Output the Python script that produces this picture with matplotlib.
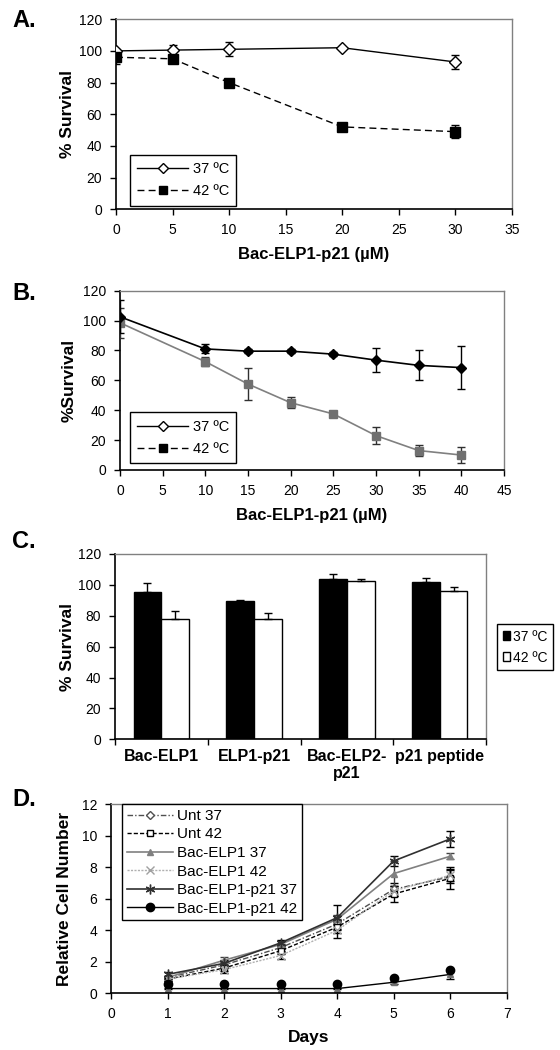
import matplotlib
matplotlib.use('Agg')
import matplotlib.pyplot as plt
import numpy as np
from matplotlib.lines import Line2D
from matplotlib.patches import Patch

plt.rcParams['font.family'] = ['Liberation Sans', 'DejaVu Sans']
plt.rcParams['font.size'] = 10

# panel A
conc_a = [0, 5, 10, 20, 30]
surv_a_37 = [100, 100.5, 101, 102, 93]
err_a_37 = [1, 3.5, 4.5, 0.5, 4.5]
surv_a_42 = [96, 95, 80, 52, 49]
err_a_42 = [4.5, 2, 1, 0.5, 4]

# panel B
conc_b = [0, 10, 15, 20, 25, 30, 35, 40]
surv_b_37 = [102.5, 81, 79.5, 79.5, 77.5, 73.5, 70, 68.5]
err_b_37 = [11, 3, 1.5, 1.5, 1.5, 8, 10, 14.5]
surv_b_42 = [98.5, 72.5, 57.5, 45, 37.5, 23, 13, 10]
err_b_42 = [10, 3, 10.5, 3.5, 1, 5.5, 3.5, 5.5]

# panel C
groups = ['Bac-ELP1', 'ELP1-p21', 'Bac-ELP2-\np21', 'p21 peptide']
c_37 = [95.5, 89.5, 104, 102]
c_37_err = [6, 0.5, 3, 2.5]
c_42 = [78, 78, 102.5, 96]
c_42_err = [5, 4, 1, 2.5]

# panel D
days = [1, 2, 3, 4, 5, 6]
unt37 = [1.0, 1.8, 2.9, 4.4, 6.6, 7.4]
unt37_err = [0.1, 0.2, 0.2, 0.3, 0.4, 0.4]
unt42 = [0.9, 1.6, 2.7, 4.2, 6.3, 7.3]
unt42_err = [0.1, 0.2, 0.2, 0.4, 0.5, 0.7]
elp37 = [1.0, 2.1, 3.1, 4.7, 7.6, 8.7]
elp37_err = [0.1, 0.2, 0.2, 0.3, 0.8, 0.2]
elp42 = [0.9, 1.5, 2.4, 4.0, 6.5, 7.5]
elp42_err = [0.1, 0.2, 0.2, 0.5, 0.3, 0.4]
p21_37 = [1.2, 1.9, 3.2, 4.8, 8.4, 9.8]
p21_37_err = [0.15, 0.2, 0.2, 0.8, 0.3, 0.5]
p21_42 = [0.6, 0.6, 0.6, 0.6, 1.0, 1.5]
p21_42_trace = [0.3, 0.3, 0.3, 0.3, 0.7, 1.2]
p21_42_trace_err = [0.05, 0.05, 0.05, 0.05, 0.1, 0.3]

fig = plt.figure(figsize=(5.6, 10.5), dpi=100)


def style_axes(ax):
    for s in ['top', 'right']:
        ax.spines[s].set_color('#808080')
        ax.spines[s].set_linewidth(1)
    for s in ['left', 'bottom']:
        ax.spines[s].set_color('black')
        ax.spines[s].set_linewidth(1.2)
    ax.tick_params(direction='out', length=4, width=1, labelsize=10, pad=6)
    ax.tick_params(top=False, right=False)


def temp_legend(ax, anchor):
    h = [Line2D([], [], color='black', lw=1, marker='D', ms=5.5, mfc='white', mec='black'),
         Line2D([], [], color='black', lw=1, ls=(0, (5, 3)), marker='s', ms=6, mfc='black', mec='black')]
    leg = ax.legend(h, ['37 \u00baC', '42 \u00baC'], loc='lower left', bbox_to_anchor=anchor,
                    borderaxespad=0, fancybox=False, edgecolor='black', framealpha=1,
                    handlelength=3.5, handletextpad=0.3, fontsize=10.5, labelspacing=0.55,
                    borderpad=0.5)
    leg.get_frame().set_linewidth(1)


# ---- A ----
axa = fig.add_axes([0.2071, 0.8007, 0.7071, 0.181])
style_axes(axa)
axa.errorbar(conc_a, surv_a_37, yerr=err_a_37, color='black', lw=1, marker='D', ms=6,
             mfc='white', mec='black', capsize=3, elinewidth=1, zorder=3)
axa.errorbar(conc_a, surv_a_42, yerr=err_a_42, color='black', lw=1, ls=(0, (5, 3)), marker='s',
             ms=7, mfc='black', mec='black', capsize=3, elinewidth=1, zorder=3)
axa.set_xlim(0, 35)
axa.set_ylim(0, 120)
axa.set_xticks(range(0, 36, 5))
axa.set_yticks(range(0, 121, 20))
axa.set_xlabel('Bac-ELP1-p21 (\u00b5M)', fontsize=12, fontweight='bold', labelpad=7)
axa.set_ylabel('% Survival', fontsize=12.5, fontweight='bold')
axa.yaxis.set_label_coords(-0.103, 0.5)
temp_legend(axa, (0.035, 0.019))

# ---- B ----
axb = fig.add_axes([0.2143, 0.5524, 0.6857, 0.1708])
style_axes(axb)
axb.errorbar(conc_b, surv_b_42, yerr=err_b_42, color='#808080', lw=1.2, marker='s', ms=6,
             mfc='#707070', mec='#707070', ecolor='#303030', capsize=3, elinewidth=1, zorder=3)
axb.errorbar(conc_b, surv_b_37, yerr=err_b_37, color='black', lw=1.2, marker='D', ms=5,
             mfc='black', mec='black', capsize=3, elinewidth=1, zorder=4)
axb.set_xlim(0, 45)
axb.set_ylim(0, 120)
axb.set_xticks(range(0, 46, 5))
axb.set_yticks(range(0, 121, 20))
axb.set_xlabel('Bac-ELP1-p21 (\u00b5M)', fontsize=12, fontweight='bold', labelpad=7)
axb.set_ylabel('%Survival', fontsize=12.5, fontweight='bold')
axb.yaxis.set_label_coords(-0.112, 0.5)
temp_legend(axb, (0.026, 0.039))

# ---- C ----
axc = fig.add_axes([0.2054, 0.2959, 0.6625, 0.1765])
style_axes(axc)
x = np.arange(len(groups))
w = 0.3
axc.bar(x - w / 2, c_37, w, color='black', edgecolor='black', lw=1,
        yerr=[np.zeros(len(c_37)), c_37_err], capsize=3, error_kw=dict(elinewidth=1, ecolor='black'))
axc.bar(x + w / 2, c_42, w, color='white', edgecolor='black', lw=1,
        yerr=[np.zeros(len(c_42)), c_42_err], capsize=3, error_kw=dict(elinewidth=1, ecolor='black'))
axc.set_xlim(-0.5, len(groups) - 0.5)
axc.set_ylim(0, 120)
axc.set_yticks(range(0, 121, 20))
axc.set_xticks(np.arange(-0.5, len(groups), 1.0))
axc.set_xticklabels([])
axc.set_xticks(x, minor=True)
axc.set_xticklabels(groups, minor=True, fontsize=11.5, fontweight='bold', linespacing=1.15)
axc.tick_params(axis='x', which='minor', length=0, pad=7)
axc.set_ylabel('% Survival', fontsize=12.5, fontweight='bold')
axc.yaxis.set_label_coords(-0.108, 0.5)
hc = [Patch(facecolor='black', edgecolor='black'), Patch(facecolor='white', edgecolor='black')]
legc = axc.legend(hc, ['37 \u00baC', '42 \u00baC'], loc='upper left', bbox_to_anchor=(1.03, 0.622),
                  borderaxespad=0, fancybox=False, edgecolor='black', framealpha=1,
                  handlelength=0.55, handleheight=0.55, handletextpad=0.2, fontsize=10,
                  labelspacing=0.5, borderpad=0.4)
legc.get_frame().set_linewidth(1)

# ---- D ----
axd = fig.add_axes([0.1982, 0.054, 0.7066, 0.18])
style_axes(axd)
eb = dict(capsize=3, elinewidth=1)
axd.errorbar(days, p21_42_trace, yerr=p21_42_trace_err, color='black', lw=1, marker='^', ms=4,
             mfc='#707070', mec='#707070', ecolor='black', **eb)
axd.errorbar(days, unt37, yerr=unt37_err, color='#505050', lw=1, ls=(0, (4, 1.5, 1, 1.5)), marker='D',
             ms=4, mfc='white', mec='#505050', ecolor='black', **eb)
axd.errorbar(days, unt42, yerr=unt42_err, color='black', lw=1, ls=(0, (3, 1.5)), marker='s',
             ms=5, mfc='white', mec='black', ecolor='black', **eb)
axd.errorbar(days, elp37, yerr=elp37_err, color='#808080', lw=1.2, marker='^', ms=5,
             mfc='#808080', mec='#808080', ecolor='#404040', **eb)
axd.errorbar(days, elp42, yerr=elp42_err, color='#b0b0b0', lw=1, ls=(0, (1.5, 1)), marker='x',
             ms=6, mec='#a0a0a0', ecolor='black', **eb)
axd.errorbar(days, p21_37, yerr=p21_37_err, color='#303030', lw=1.2, marker=(6, 2, 0), ms=7,
             mec='#303030', ecolor='black', **eb)
axd.plot(days, p21_42, ls='none', marker='o', ms=6, color='black', zorder=4)
axd.set_xlim(0, 7)
axd.set_ylim(0, 12)
axd.set_xticks(range(0, 8))
axd.set_yticks(range(0, 13, 2))
axd.set_xlabel('Days', fontsize=12.5, fontweight='bold', labelpad=6)
axd.set_ylabel('Relative Cell Number', fontsize=12.5, fontweight='bold')
axd.yaxis.set_label_coords(-0.099, 0.5)
hd = [Line2D([], [], color='#505050', lw=1, ls=(0, (4, 1.5, 1, 1.5)), marker='D', ms=4, mfc='white', mec='#505050'),
      Line2D([], [], color='black', lw=1, ls=(0, (3, 1.5)), marker='s', ms=5, mfc='white', mec='black'),
      Line2D([], [], color='#808080', lw=1.2, marker='^', ms=5, mfc='#808080', mec='#808080'),
      Line2D([], [], color='#b0b0b0', lw=1, ls=(0, (1.5, 1)), marker='x', ms=6, mec='#a0a0a0'),
      Line2D([], [], color='#303030', lw=1.2, marker=(6, 2, 0), ms=7, mec='#303030'),
      Line2D([], [], color='black', lw=1, marker='o', ms=6, mfc='black')]
labd = ['Unt 37', 'Unt 42', 'Bac-ELP1 37', 'Bac-ELP1 42', 'Bac-ELP1-p21 37', 'Bac-ELP1-p21 42']
legd = axd.legend(hd, labd, loc='upper left', bbox_to_anchor=(0.0286, 1.0), borderaxespad=0,
                  fancybox=False, edgecolor='black', framealpha=1, handlelength=3.0,
                  handletextpad=0.3, fontsize=11, labelspacing=0.3, borderpad=0.3)
legd.get_frame().set_linewidth(1)

# panel letters
for lab, yb in [('A.', 26.7), ('B.', 300), ('C.', 548), ('D.', 806)]:
    fig.text(12 / 560, 1 - yb / 1050, lab, fontsize=17, fontweight='bold', va='baseline', ha='left')

fig.savefig('out.png', dpi=100)
